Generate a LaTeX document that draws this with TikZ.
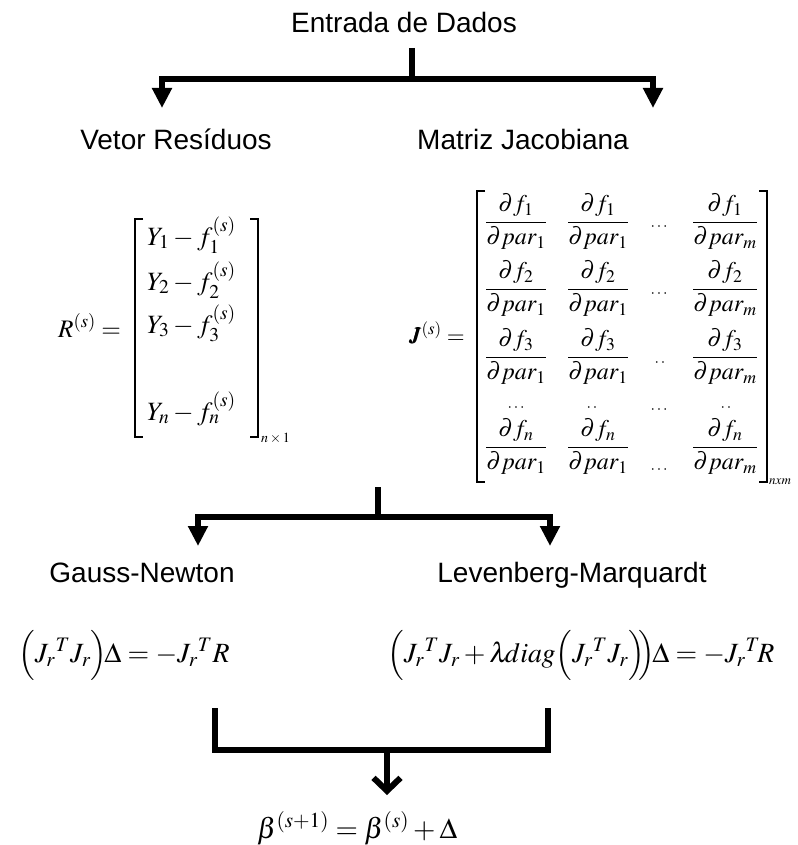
\documentclass[tikz,border=0pt]{standalone}
\usepackage{amsmath}
\usepackage{graphicx}
\usepackage{mathptmx}
\usepackage[no-math]{fontspec}
\setmainfont{Liberation Sans}
\usetikzlibrary{arrows.meta}

\newcommand{\frJ}[2]{\dfrac{\partial f_{#1}}{\partial par_{#2}}}
\newcommand{\twodots}{\mathinner{\cdotp\cdotp}}

\tikzset{
  titulo/.style={font=\fontsize{28}{32}\selectfont, inner sep=0pt, anchor=base},
  eqm/.style={font=\fontsize{24}{28}\selectfont, inner sep=0pt, anchor=base west},
  eqj/.style={font=\fontsize{24}{28}\selectfont, inner sep=0pt, anchor=base},
  dimsub/.style={font=\fontsize{14}{16}\selectfont, inner sep=0pt, anchor=base west},
  pontos/.style={font=\fontsize{16}{18}\selectfont, inner sep=0pt},
  colchete/.style={line width=1.3pt},
  barra/.style={line width=6pt, line join=miter},
  seta/.style={barra, -{Triangle[length=20pt,width=19pt]}},
  setab/.style={barra, -{Straight Barb[length=13pt,width=27pt]}}
}

\begin{document}
\begin{tikzpicture}[x=1pt, y=-1pt]
  \useasboundingbox (0,0) rectangle (797,845);

  % Entrada
  \node[titulo] (entrada) at (404,33) {Entrada de Dados};
  \coordinate (div1a) at (412,48);
  \coordinate (div1) at (412,79);
  \coordinate (setaR) at (162,108);
  \coordinate (setaJ) at (653,108);
  \draw[barra] (div1a) -- (div1);
  \draw[seta] (div1) -| (setaR);
  \draw[seta] (div1) -| (setaJ);

  \node[titulo] (vetor) at (176,150) {Vetor Resíduos};
  \node[titulo] (matriz) at (523,150) {Matriz Jacobiana};

  % Vetor de residuos
  \node[eqm] (rlab) at (58,337) {\scalebox{1.05}{$R^{(s)} =$}};
  \draw[colchete] (143,219) -- (135,219) -- (135,437) -- (143,437);
  \draw[colchete] (250,219) -- (258,219) -- (258,437) -- (250,437);
  \node[eqm] (r1) at (147,245) {\scalebox{1.1}{$Y_1 - f_1^{(s)}$}};
  \node[eqm] (r2) at (147,290) {\scalebox{1.1}{$Y_2 - f_2^{(s)}$}};
  \node[eqm] (r3) at (147,333) {\scalebox{1.1}{$Y_3 - f_3^{(s)}$}};
  \node[eqm] (rn) at (147,420) {\scalebox{1.1}{$Y_n - f_n^{(s)}$}};
  \node[dimsub] (rdim) at (261,442) {$n\times 1$};

  % Matriz jacobiana
  \node[eqm, font=\fontsize{23}{27}\selectfont] (jlab) at (410,343) {$\pmb{J}^{(s)} =$};
  \draw[colchete] (485,191) -- (477,191) -- (477,482) -- (485,482);
  \draw[colchete] (759,191) -- (767,191) -- (767,482) -- (759,482);
  \foreach \lin/\yb in {1/222, 2/289, 3/357, n/447} {
    \node[eqj] (j\lin a) at (516,\yb+6) {$\frJ{\lin}{1}$};
    \node[eqj] (j\lin b) at (598,\yb+6) {$\frJ{\lin}{1}$};
    \node[eqj] (j\lin d) at (725,\yb+6) {$\frJ{\lin}{m}$};
  }
  \node[pontos] (p1) at (660,227) {$\cdots$};
  \node[pontos] (p2) at (660,294) {$\cdots$};
  \node[pontos] (p3) at (660,363) {$\twodots$};
  \node[pontos] (pn) at (660,470) {$\cdots$};
  \node[pontos] (q1) at (517,408) {$\cdots$};
  \node[pontos] (q2) at (592,408) {$\twodots$};
  \node[pontos] (q3) at (660,410) {$\cdots$};
  \node[pontos] (q4) at (726,408) {$\twodots$};
  \node[dimsub, font=\fontsize{13}{15}\selectfont] (jdim) at (769,484) {$nxm$};

  % Metodos
  \coordinate (div2a) at (378,487);
  \coordinate (div2) at (378,517);
  \coordinate (setaGN) at (198,546);
  \coordinate (setaLM) at (550,546);
  \draw[barra] (div2a) -- (div2);
  \draw[seta] (div2) -| (setaGN);
  \draw[seta] (div2) -| (setaLM);

  \node[titulo] (gn) at (142,582) {Gauss-Newton};
  \node[titulo] (lm) at (572,582) {Levenberg-Marquardt};

  \node[eqm] (eqgn) at (18,662) {\scalebox{1.16}{$\Big(J_r{}^T J_r\Big)\!\Delta = -J_r{}^T R$}};
  \node[eqm] (eqlm) at (387,662) {\scalebox{1.16}{$\Big(J_r{}^T J_r + \lambda\!diag\Big(J_r{}^T J_r\Big)\!\!\Big)\!\Delta = -J_r{}^T\! R$}};

  % Atualizacao
  \coordinate (u1) at (215,708);
  \coordinate (u2) at (215,750);
  \coordinate (u3) at (548,750);
  \coordinate (u4) at (548,708);
  \coordinate (div3) at (387,750);
  \coordinate (setaB) at (387,795);
  \draw[barra] (u1) -- (u2) -- (u3) -- (u4);
  \draw[setab] (div3) -- (setaB);

  \node[eqm] (beta) at (257,838) {\scalebox{1.2}{$\beta^{(s+1)} = \beta^{(s)} + \Delta$}};
\end{tikzpicture}
\end{document}
